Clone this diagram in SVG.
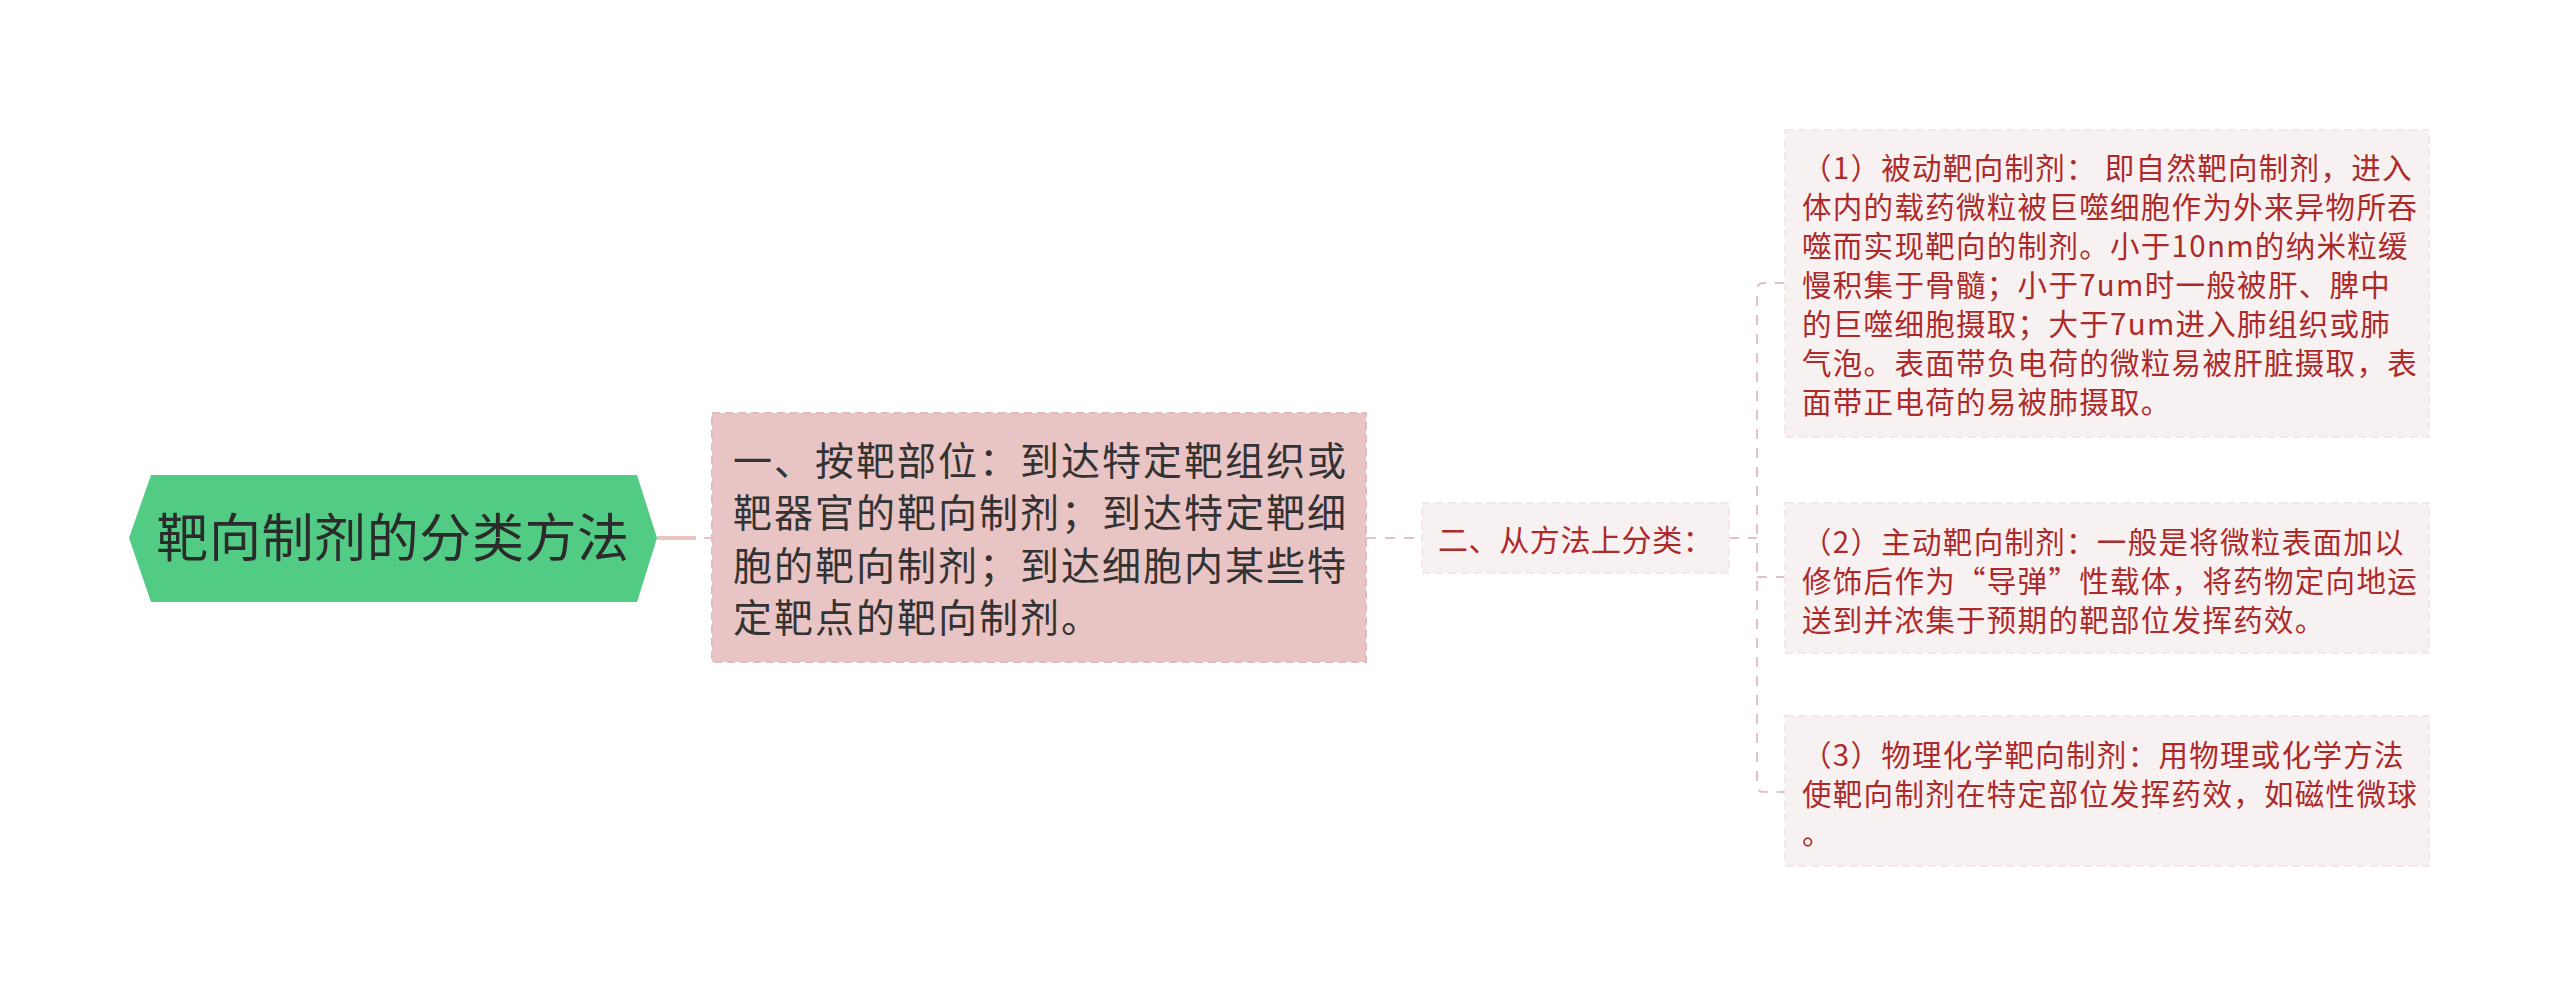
<svg xmlns="http://www.w3.org/2000/svg" width="2560" height="998" viewBox="0 0 2560 998">
<style>
.cjk{font-family:"Noto Sans CJK SC","Noto Sans",sans-serif;}
.title{font-size:52px;letter-spacing:0.6px;fill:#2b2b2b;}
.t1{font-size:39px;letter-spacing:2px;fill:#333333;}
.t2{font-size:30px;letter-spacing:0.6px;fill:#ad2a2a;}
.t3{font-size:29.5px;letter-spacing:1.3px;fill:#ad2a2a;}
.light{fill:#f8f1f1;stroke:#f3e7e7;stroke-width:2;stroke-dasharray:8 5;}
.dash{fill:none;stroke:#e2c2c2;stroke-width:2;stroke-dasharray:10 9;}
</style>
<rect width="2560" height="998" fill="#ffffff"/>
<g id="connectors">
<path d="M657,538 H696" stroke="#e8c4c4" stroke-width="4" fill="none"/>
<path d="M704,538 H712" stroke="#e8c4c4" stroke-width="2" fill="none"/>
<path class="dash" d="M1366,538 H1422"/>
<path class="dash" d="M1729,538 H1757"/>
<path class="dash" d="M1785,283 H1764 Q1757,283 1757,290 V785 Q1757,792 1764,792 H1785"/>
<path class="dash" d="M1757,577 H1785"/>
</g>
<g id="root">
<polygon points="129,538 151,475 637,475 657,538 637,602 151,602" fill="#52cc84"/>
<text class="cjk title" x="393" y="557" text-anchor="middle">靶向制剂的分类方法</text>
</g>
<g id="node1">
<rect x="712" y="413" width="654" height="249" fill="#e8c4c4" stroke="#e2bcbc" stroke-width="2" stroke-dasharray="8 5"/>
<text class="cjk t1" x="733" y="475">一、按靶部位：到达特定靶组织或</text>
<text class="cjk t1" x="733" y="527">靶器官的靶向制剂；到达特定靶细</text>
<text class="cjk t1" x="733" y="580">胞的靶向制剂；到达细胞内某些特</text>
<text class="cjk t1" x="733" y="632">定靶点的靶向制剂。</text>
</g>
<g id="node2">
<rect class="light" x="1422" y="503" width="307" height="70"/>
<text class="cjk t2" x="1438" y="551">二、从方法上分类：</text>
</g>
<g id="leaf1">
<rect class="light" x="1785" y="130" width="644" height="307"/>
<text class="cjk t3" x="1802" y="179">（1）被动靶向制剂： 即自然靶向制剂，进入</text>
<text class="cjk t3" x="1802" y="218">体内的载药微粒被巨噬细胞作为外来异物所吞</text>
<text class="cjk t3" x="1802" y="257">噬而实现靶向的制剂。小于10nm的纳米粒缓</text>
<text class="cjk t3" x="1802" y="296">慢积集于骨髓；小于7um时一般被肝、脾中</text>
<text class="cjk t3" x="1802" y="335">的巨噬细胞摄取；大于7um进入肺组织或肺</text>
<text class="cjk t3" x="1802" y="374">气泡。表面带负电荷的微粒易被肝脏摄取，表</text>
<text class="cjk t3" x="1802" y="413">面带正电荷的易被肺摄取。</text>
</g>
<g id="leaf2">
<rect class="light" x="1785" y="503" width="644" height="150"/>
<text class="cjk t3" x="1802" y="553">（2）主动靶向制剂：一般是将微粒表面加以</text>
<text class="cjk t3" x="1802" y="592">修饰后作为“导弹”性载体，将药物定向地运</text>
<text class="cjk t3" x="1802" y="631">送到并浓集于预期的靶部位发挥药效。</text>
</g>
<g id="leaf3">
<rect class="light" x="1785" y="716" width="644" height="150"/>
<text class="cjk t3" x="1802" y="766">（3）物理化学靶向制剂：用物理或化学方法</text>
<text class="cjk t3" x="1802" y="805">使靶向制剂在特定部位发挥药效，如磁性微球</text>
<text class="cjk t3" x="1802" y="844">。</text>
</g>
</svg>
